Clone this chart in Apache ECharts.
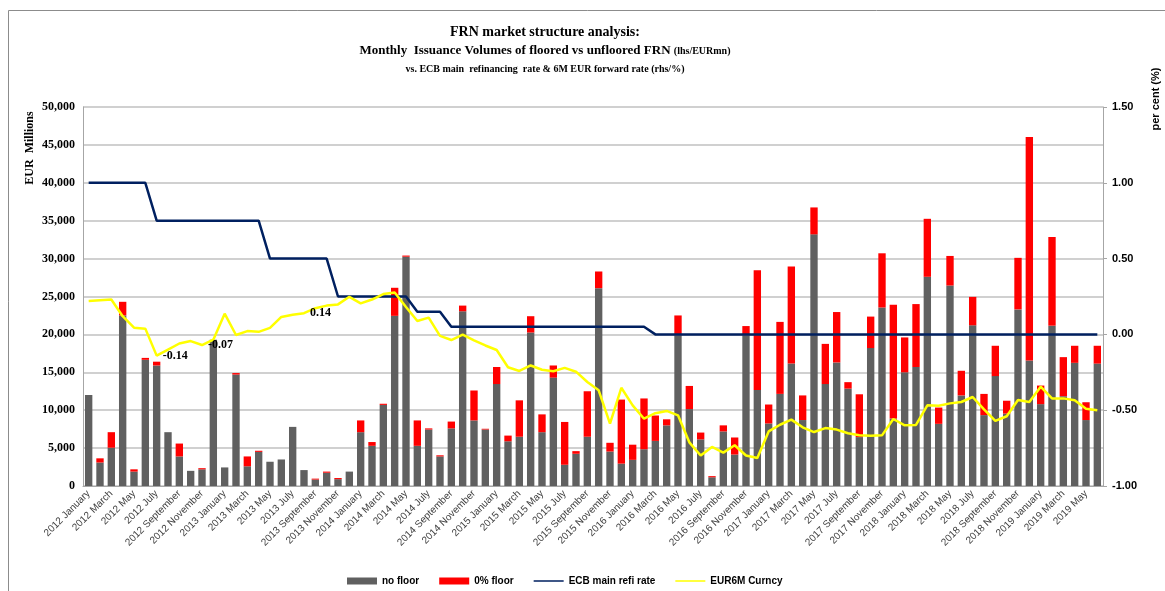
<!DOCTYPE html>
<html>
<head>
<meta charset="utf-8">
<script src="https://cdn.jsdelivr.net/npm/echarts@6/dist/echarts.min.js"></script>
<style>
  html, body { margin: 0; padding: 0; background: #fff; }
  #chart { width: 1165px; height: 591px; }
</style>
</head>
<body>
<div id="chart"></div>
<script>
// months Jan 2012 .. Jun 2019
var years = [2012, 2013, 2014, 2015, 2016, 2017, 2018, 2019];
var monthNames = ['January', 'February', 'March', 'April', 'May', 'June', 'July',
  'August', 'September', 'October', 'November', 'December'];
var categories = [];
years.forEach(function (y) {
  monthNames.forEach(function (m, k) {
    if (y === 2019 && k > 5) return;
    categories.push(y + ' ' + m);
  });
});

// EUR mn
var noFloor = [
  12000, 3100, 5050, 22500, 1900, 16650, 15900, 7100, 3900, 2000,
  2200, 19300, 2450, 14700, 2600, 4500, 3200, 3500, 7800, 2100,
  850, 1750, 900, 1900, 7100, 5300, 10700, 22450, 30250, 5300,
  7450, 3900, 7600, 23050, 8650, 7450, 13450, 5900, 6500, 20250,
  7100, 14300, 2800, 4250, 6500, 26100, 4550, 2950, 3450, 4850,
  5950, 8000, 19900, 10150, 6150, 1150, 7200, 4150, 19900, 12650,
  8250, 12150, 16150, 8700, 33200, 13450, 16300, 12850, 6450, 18200,
  23550, 8900, 15000, 15700, 27600, 8200, 26450, 11950, 21200, 9350,
  14500, 9550, 23300, 16550, 10800, 21150, 11850, 16250, 8700, 16150
];
var zeroFloor = [
  0, 550, 2050, 1800, 300, 250, 500, 0, 1700, 0,
  150, 0, 0, 200, 1300, 150, 0, 0, 0, 0,
  120, 150, 150, 0, 1550, 500, 150, 3700, 150, 3350,
  150, 150, 900, 750, 3950, 100, 2250, 750, 4800, 2150,
  2350, 1600, 5650, 350, 6000, 2200, 1150, 8450, 2000, 6700,
  3350, 800, 2600, 3050, 900, 150, 800, 2250, 1200, 15800,
  2500, 9500, 12800, 3250, 3550, 5300, 6650, 850, 5650, 4150,
  7150, 15000, 4600, 8300, 7650, 2150, 3900, 3250, 3750, 2800,
  4000, 1700, 6800, 29500, 2450, 11700, 5150, 2250, 2350, 2350
];
// per cent
var ecbRate = [
  1.00, 1.00, 1.00, 1.00, 1.00, 1.00,
  0.75, 0.75, 0.75, 0.75, 0.75, 0.75, 0.75, 0.75, 0.75, 0.75,
  0.50, 0.50, 0.50, 0.50, 0.50, 0.50,
  0.25, 0.25, 0.25, 0.25, 0.25, 0.25, 0.25,
  0.15, 0.15, 0.15,
  0.05, 0.05, 0.05, 0.05, 0.05, 0.05, 0.05, 0.05, 0.05, 0.05, 0.05, 0.05, 0.05, 0.05, 0.05, 0.05, 0.05, 0.05,
  0, 0, 0, 0, 0, 0, 0, 0, 0, 0, 0, 0, 0, 0, 0, 0, 0, 0, 0, 0,
  0, 0, 0, 0, 0, 0, 0, 0, 0, 0, 0, 0, 0, 0, 0, 0, 0, 0, 0, 0
];
var eur6m = [
  0.22, 0.225, 0.23, 0.12, 0.044, 0.038, -0.14, -0.10, -0.06, -0.044,
  -0.07, -0.035, 0.137, -0.004, 0.022, 0.017, 0.043, 0.115, 0.13, 0.14,
  0.173, 0.19, 0.198, 0.248, 0.205, 0.23, 0.266, 0.277, 0.181, 0.088,
  0.111, -0.01, -0.037, -0.002, -0.04, -0.073, -0.103, -0.217, -0.241, -0.205,
  -0.233, -0.243, -0.221, -0.246, -0.314, -0.369, -0.589, -0.352, -0.468, -0.556,
  -0.52, -0.505, -0.534, -0.712, -0.799, -0.742, -0.78, -0.731, -0.799, -0.815,
  -0.64, -0.596, -0.562, -0.613, -0.644, -0.618, -0.628, -0.652, -0.665, -0.668,
  -0.666, -0.558, -0.6, -0.597, -0.468, -0.471, -0.455, -0.446, -0.413, -0.495,
  -0.571, -0.54, -0.433, -0.446, -0.345, -0.422, -0.422, -0.435, -0.49, -0.50
];
var labelledPoints = [6, 10, 19];

var serif = 'Liberation Serif';
var sans = 'Liberation Sans';

var chart = echarts.init(document.getElementById('chart'), null, { renderer: 'canvas' });

var option = {
  backgroundColor: '#ffffff',
  animation: false,
  graphic: [
    { type: 'rect', shape: { x: 8.5, y: 10.5, width: 1170, height: 600 },
      style: { fill: 'none', stroke: '#8c8c8c', lineWidth: 1 }, silent: true },
    { type: 'text', x: 545, y: 32,
      style: { text: 'FRN market structure analysis:', fill: '#000', align: 'center', verticalAlign: 'middle',
        font: 'bold 14px "' + serif + '"' } },
    { type: 'text', x: 545, y: 51,
      style: { text: 'Monthly  Issuance Volumes of floored vs unfloored FRN {s|(lhs/EURmn)}', fill: '#000',
        align: 'center', verticalAlign: 'middle', font: 'bold 13px "' + serif + '"',
        rich: { s: { fontSize: 10, fontWeight: 'bold', fontFamily: serif } } } },
    { type: 'text', x: 545, y: 69,
      style: { text: 'vs. ECB main  refinancing  rate & 6M EUR forward rate (rhs/%)', fill: '#000',
        align: 'center', verticalAlign: 'middle', font: 'bold 10px "' + serif + '"' } },
    { type: 'text', x: 30, y: 148, rotation: Math.PI / 2,
      style: { text: 'EUR  Millions', fill: '#000', align: 'center', verticalAlign: 'middle',
        font: 'bold 12px "' + serif + '"' } },
    { type: 'text', x: 1156, y: 99, rotation: Math.PI / 2,
      style: { text: 'per cent (%)', fill: '#000', align: 'center', verticalAlign: 'middle',
        font: 'bold 11px "' + sans + '"' } }
  ],
  legend: {
    left: 342, top: 571,
    itemWidth: 30, itemHeight: 7, itemGap: 20,
    textStyle: { fontFamily: sans, fontWeight: 'bold', fontSize: 10, color: '#000' },
    data: [
      { name: 'no floor', icon: 'rect' },
      { name: '0% floor', icon: 'rect' },
      { name: 'ECB main refi rate', icon: 'path://M0,0H30V0.01H0ZM0,2.75H30V4.25H0ZM0,6.99H30V7H0Z' },
      { name: 'EUR6M Curncy', icon: 'path://M0,0H30V0.01H0ZM0,2.75H30V4.25H0ZM0,6.99H30V7H0Z' }
    ]
  },
  grid: { left: 83, right: 62, top: 107, bottom: 105 },
  xAxis: {
    type: 'category',
    data: categories,
    boundaryGap: true,
    axisLine: { lineStyle: { color: '#a6a6a6', width: 1 } },
    axisTick: { show: false },
    axisLabel: { interval: 1, rotate: 45, margin: 6, color: '#404040', fontFamily: sans, fontSize: 10 }
  },
  yAxis: [
    {
      type: 'value', min: 0, max: 50000, interval: 5000,
      axisLine: { show: true, lineStyle: { color: '#a6a6a6' } },
      axisTick: { show: false },
      splitLine: { lineStyle: { color: '#c0c0c0', width: 1.5 } },
      axisLabel: {
        margin: 8, color: '#000', fontFamily: serif, fontWeight: 'bold', fontSize: 12,
        formatter: function (v) { return v.toLocaleString('en-US'); }
      }
    },
    {
      type: 'value', min: -1, max: 1.5, interval: 0.5,
      axisLine: { show: true, lineStyle: { color: '#a6a6a6' } },
      axisTick: { show: true, length: 4, lineStyle: { color: '#a6a6a6' } },
      splitLine: { show: false },
      axisLabel: {
        margin: 9, color: '#000', fontFamily: sans, fontWeight: 'bold', fontSize: 11,
        formatter: function (v) { return v.toFixed(2); }
      }
    }
  ],
  series: [
    {
      name: 'no floor', type: 'bar', stack: 'vol', data: noFloor,
      barCategoryGap: '35%',
      itemStyle: { color: '#606060' }
    },
    {
      name: '0% floor', type: 'bar', stack: 'vol', data: zeroFloor,
      itemStyle: { color: '#ff0000' }
    },
    {
      name: 'ECB main refi rate', type: 'line', yAxisIndex: 1, data: ecbRate,
      symbol: 'none', color: '#002060',
      lineStyle: { color: '#002060', width: 2.5 }
    },
    {
      name: 'EUR6M Curncy', type: 'line', yAxisIndex: 1,
      data: eur6m.map(function (v, i) {
        if (labelledPoints.indexOf(i) < 0) return v;
        return {
          value: v,
          label: {
            show: true, position: 'right', distance: 6,
            formatter: function (p) { return p.value.toFixed(2); },
            color: '#000', fontFamily: serif, fontWeight: 'bold', fontSize: 12
          }
        };
      }),
      symbol: 'circle', symbolSize: 0, showSymbol: true, color: '#ffff00',
      itemStyle: { color: '#ffff00' },
      lineStyle: { color: '#ffff00', width: 2.5 }
    }
  ]
};

chart.setOption(option);
</script>
</body>
</html>
